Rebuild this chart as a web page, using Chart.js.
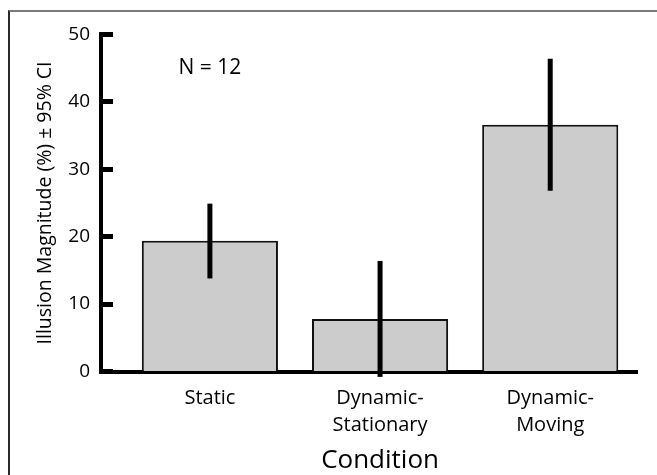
<!DOCTYPE html>
<html>
<head>
<meta charset="utf-8">
<script src="https://cdn.jsdelivr.net/npm/chart.js@4"></script>
<style>
  html, body { margin: 0; padding: 0; background: #fff; }
  #wrap { position: relative; width: 657px; height: 475px; }
  #frame { position: absolute; left: 8px; top: 10px; width: 649px; height: 465px;
           border-top: 2px solid #7a7a7a; border-left: 2px solid #2a2a2a; box-sizing: border-box; pointer-events: none; }
  canvas { position: absolute; left: 0; top: 0; }
</style>
</head>
<body>
<div id="wrap">
  <canvas id="c" width="657" height="475"></canvas>
  <div id="frame"></div>
</div>
<script>
const categories = [['Static'], ['Dynamic-', 'Stationary'], ['Dynamic-', 'Moving']];
const means = [19.4, 7.8, 36.6];
const ciLow = [13.8, -0.8, 26.8];
const ciHigh = [24.9, 16.4, 46.4];
const yTicks = [0, 10, 20, 30, 40, 50];
const annotation = 'N = 12';
const xTitle = 'Condition';
const yTitle = 'Illusion Magnitude (%) \u00B1 95% CI';

const FONT = "'Open Sans', 'Noto Sans', sans-serif";

const overlay = {
  id: 'overlay',
  afterDraw(chart) {
    const ctx = chart.ctx;
    const xs = chart.scales.x, ys = chart.scales.y;
    ctx.save();
    ctx.strokeStyle = '#000';
    ctx.lineWidth = 5;
    ctx.lineCap = 'butt';
    means.forEach((m, i) => {
      const px = xs.getPixelForValue(i);
      ctx.beginPath();
      ctx.moveTo(px, ys.getPixelForValue(ciLow[i]));
      ctx.lineTo(px, ys.getPixelForValue(ciHigh[i]));
      ctx.stroke();
    });
    ctx.fillStyle = '#000';
    ctx.textAlign = 'center';
    ctx.textBaseline = 'middle';
    ctx.font = '21px ' + FONT;
    ctx.fillText(annotation, xs.getPixelForValue(0), ys.getPixelForValue(45));
    ctx.font = '26px ' + FONT;
    ctx.fillText(xTitle, xs.getPixelForValue(1), xs.bottom - 14);
    ctx.restore();
  }
};

new Chart(document.getElementById('c'), {
  type: 'bar',
  data: {
    datasets: [{
      data: means.map((v, i) => ({ x: i, y: v })),
      backgroundColor: '#cccccc',
      borderColor: '#111111',
      borderWidth: 2,
      categoryPercentage: 1,
      barPercentage: 0.8
    }]
  },
  options: {
    responsive: false,
    animation: false,
    events: [],
    layout: { padding: { left: 0, top: 34, right: 20, bottom: 0 } },
    plugins: { legend: { display: false }, tooltip: { enabled: false } },
    scales: {
      x: {
        type: 'linear',
        offset: false,
        min: -0.64,
        max: 2.51,
        z: 1,
        afterBuildTicks: (s) => { s.ticks = categories.map((c, i) => ({ value: i })); },
        afterFit: (s) => { s.height = 103.5; },
        ticks: {
          callback: (v) => categories[v],
          color: '#000',
          font: { family: FONT, size: 20, lineHeight: 1.35 },
          padding: 5,
          maxRotation: 0,
          autoSkip: false
        },
        grid: { display: false, offset: false },
        border: { display: true, color: '#000', width: 4 }
      },
      y: {
        min: 0,
        max: 50,
        z: 1,
        afterBuildTicks: (s) => { s.ticks = yTicks.map(v => ({ value: v })); },
        afterFit: (s) => { s.width = 101; },
        ticks: {
          color: '#000',
          font: { family: FONT, size: 19 },
          padding: 23
        },
        grid: {
          drawOnChartArea: false,
          drawTicks: true,
          tickLength: -12,
          tickWidth: 5,
          tickColor: '#000'
        },
        border: { display: true, color: '#000', width: 4 },
        title: {
          display: true,
          text: yTitle,
          color: '#000',
          font: { family: FONT, size: 19.5 },
          padding: { top: 34, bottom: 0 }
        }
      }
    }
  },
  plugins: [overlay]
});
</script>
</body>
</html>
